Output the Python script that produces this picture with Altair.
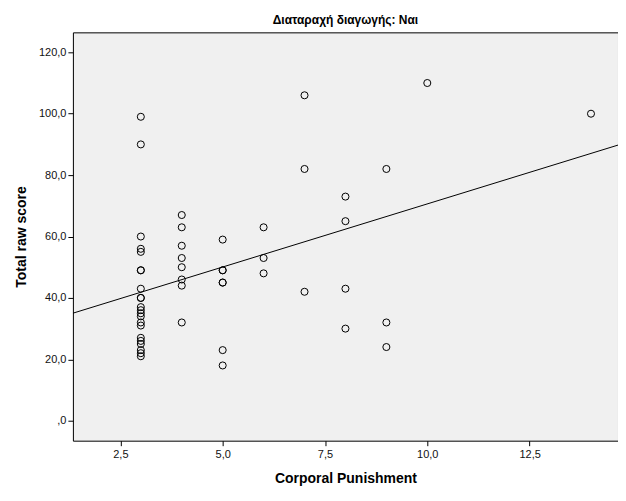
import altair as alt
import pandas as pd

punishment = ([3] * 22 + [4] * 8 + [5] * 7 + [6] * 3 + [7] * 3 + [8] * 4 + [9] * 3 + [10] + [14])
raw_score = (
    [99, 90, 60, 56, 55, 49, 49, 43, 40, 40, 37, 36, 35, 34, 32, 31, 27, 26, 25, 23, 22, 21]
    + [67, 63, 57, 53, 50, 46, 44, 32]
    + [59, 49, 49, 45, 45, 23, 18]
    + [63, 53, 48]
    + [106, 82, 42]
    + [73, 65, 43, 30]
    + [82, 32, 24]
    + [110]
    + [100]
)
x_ticks = [2.5, 5.0, 7.5, 10.0, 12.5]
y_ticks = [0, 20, 40, 60, 80, 100, 120]
x_domain = [1.34, 14.66]
y_domain = [-6.5, 126.5]

df = pd.DataFrame({"cp": punishment, "score": raw_score})

label_expr = "datum.value == 0 ? ',0' : replace(format(datum.value, '.1f'), '.', ',')"
FONT = "Liberation Sans"

x_enc = alt.X(
    "cp:Q",
    scale=alt.Scale(domain=x_domain, nice=False, zero=False),
    axis=alt.Axis(values=x_ticks, labelExpr=label_expr, title="Corporal Punishment",
                  grid=False, domain=False, tickColor="black", tickSize=5,
                  labelFontSize=11, labelFont=FONT, labelColor="#111111", labelPadding=3,
                  titleFont=FONT, titleFontSize=14, titleFontWeight="bold", titleColor="black",
                  titlePadding=12),
)
y_enc = alt.Y(
    "score:Q",
    scale=alt.Scale(domain=y_domain, nice=False, zero=False),
    axis=alt.Axis(values=y_ticks, labelExpr=label_expr, title="Total raw score",
                  grid=False, domain=False, tickColor="black", tickSize=5,
                  labelFontSize=11, labelFont=FONT, labelColor="#111111", labelPadding=2,
                  titleFont=FONT, titleFontSize=14, titleFontWeight="bold", titleColor="black",
                  titlePadding=10),
)

points = alt.Chart(df).mark_point(
    shape="circle", filled=False, color="black", size=50, strokeWidth=1, opacity=1
).encode(x=x_enc, y=y_enc)

line = alt.Chart(df).transform_regression(
    "cp", "score", extent=x_domain
).mark_line(color="black", strokeWidth=1, clip=True).encode(x=x_enc, y=y_enc)

chart = alt.layer(points, line).properties(
    width=546,
    height=409,
    title=alt.TitleParams("Διαταραχή διαγωγής: Ναι", font=FONT, fontSize=12,
                          fontWeight="bold", color="black", offset=5),
    autosize=alt.AutoSizeParams(type="none"),
    padding={"left": 65, "top": 24, "right": 0, "bottom": 45},
    background="white",
).configure_view(fill="#f0f0f0", stroke="black", strokeWidth=1)

chart.save("out.html", embed_options={"renderer": "svg", "actions": False})
